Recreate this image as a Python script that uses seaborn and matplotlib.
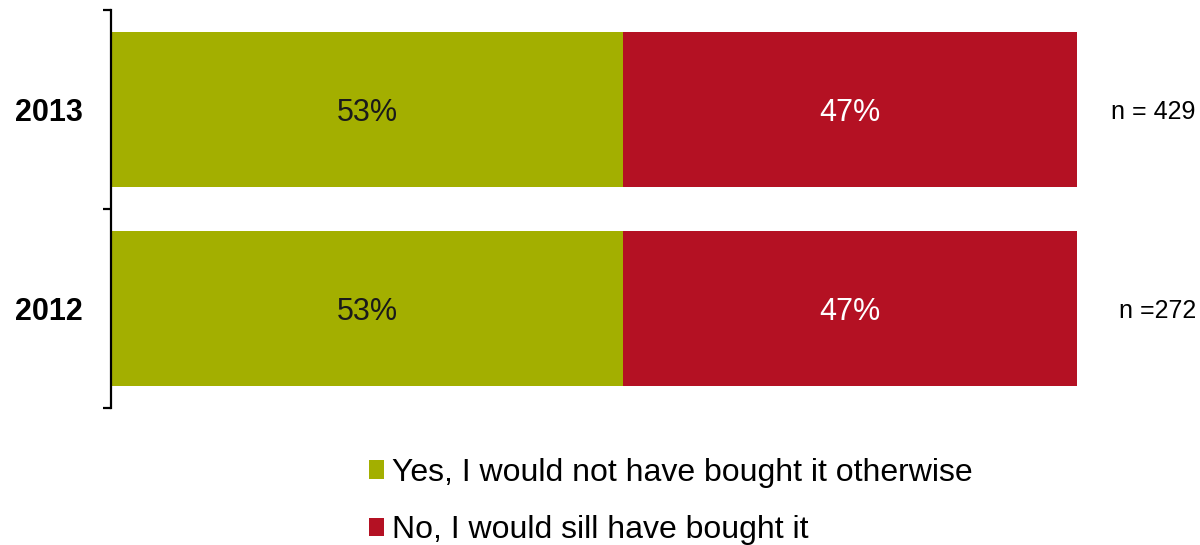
import matplotlib
matplotlib.use("Agg")
import matplotlib.pyplot as plt
from matplotlib.patches import Patch
import seaborn as sns
import pandas as pd

# Survey data
years = ["2013", "2012"]
yes_share = [53, 53]
no_share = [47, 47]
sample_sizes = ["n = 429", "n =272"]
series_labels = ["Yes, I would not have bought it otherwise",
                 "No, I would sill have bought it"]

green = "#A3AF00"
red = "#B41123"

sns.set_theme(style="white")
plt.rcParams["font.family"] = ["Liberation Sans", "DejaVu Sans"]

df = pd.DataFrame({"year": years, "yes": yes_share, "no": no_share})
df["total"] = df["yes"] + df["no"]

fig = plt.figure(figsize=(12, 5.45), dpi=100)
ax = fig.add_axes([0.0925, 0.2514, 0.8050, 0.7303])

# Stacked horizontal bars: full length (red) underneath, first segment (green) on top
sns.barplot(data=df, y="year", x="total", order=years, color=red,
            width=0.775, orient="h", ax=ax, saturation=1, linewidth=0)
sns.barplot(data=df, y="year", x="yes", order=years, color=green,
            width=0.775, orient="h", ax=ax, saturation=1, linewidth=0)

ax.set_xlim(0, 100)
ax.set_ylim(1.5, -0.5)
ax.set_xlabel("")
ax.set_ylabel("")
ax.set_xticks([])

for s in ["top", "right", "bottom"]:
    ax.spines[s].set_visible(False)
ax.spines["left"].set_color("black")
ax.spines["left"].set_linewidth(1.6)

# Category labels at bar centres, tick marks at category boundaries
ax.set_yticks(range(len(years)))
ax.set_yticklabels(years, fontsize=22, fontweight="bold", color="black")
ax.tick_params(axis="y", which="major", length=0, pad=20)
ax.set_yticks([-0.5, 0.5, 1.5], minor=True)
ax.tick_params(axis="y", which="minor", length=6, width=1.6, color="black",
               direction="out", left=True)

# Segment value labels and sample sizes
for i, (y_val, n_val) in enumerate(zip(yes_share, no_share)):
    ax.text(y_val / 2, i, f"{y_val}%", ha="center", va="center_baseline",
            fontsize=22, color="#1a1a1a")
    ax.text(y_val + n_val / 2, i, f"{n_val}%", ha="center", va="center_baseline",
            fontsize=22, color="white")
    ax.text(112.3, i, sample_sizes[i], ha="right", va="center_baseline",
            fontsize=18, color="black", clip_on=False)

handles = [Patch(facecolor=green, edgecolor="none"),
           Patch(facecolor=red, edgecolor="none")]
fig.legend(handles, series_labels, loc="upper left",
           bbox_to_anchor=(0.3075, 0.160), frameon=False, fontsize=23,
           labelcolor="black",
           handlelength=0.47, handleheight=0.5, handletextpad=0.25,
           labelspacing=0.85, borderaxespad=0, borderpad=0)

fig.savefig("out.png", dpi=100)
